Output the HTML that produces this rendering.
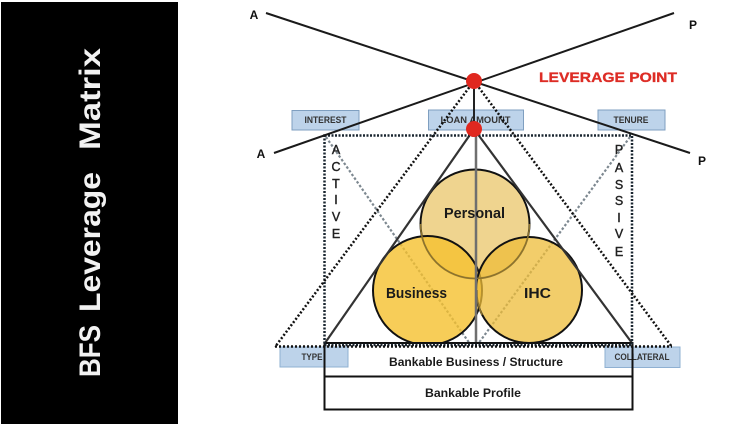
<!DOCTYPE html>
<html>
<head>
<meta charset="utf-8">
<style>
html,body{margin:0;padding:0;background:#fff;width:736px;height:424px;overflow:hidden}
svg{display:block}
text{font-family:"Liberation Sans",sans-serif}
</style>
</head>
<body>
<svg width="736" height="424" viewBox="0 0 736 424" xmlns="http://www.w3.org/2000/svg">
<rect width="736" height="424" fill="#fff"/>
<rect x="1" y="2" width="177" height="422" fill="#000"/>
<g font-size="30" font-weight="bold" fill="#f2f2f2">
<text transform="translate(100,377) rotate(-90)" textLength="52" lengthAdjust="spacingAndGlyphs">BFS</text>
<text transform="translate(100,312) rotate(-90)" textLength="140" lengthAdjust="spacingAndGlyphs">Leverage</text>
<text transform="translate(100,150) rotate(-90)" textLength="102" lengthAdjust="spacingAndGlyphs">Matrix</text>
</g>

<!-- top label boxes -->
<g fill="#bdd3ea" stroke="#7f9fc0" stroke-width="1">
<rect x="292" y="110.500" width="67" height="19.500"/>
<rect x="428.500" y="110" width="95" height="20"/>
<rect x="598" y="110" width="67" height="20"/>
</g>
<g font-size="9" font-weight="bold" fill="#333" text-anchor="middle" dominant-baseline="central">
<text x="325.500" y="120" textLength="42" lengthAdjust="spacingAndGlyphs">INTEREST</text>
<text x="475.500" y="120" textLength="70" lengthAdjust="spacingAndGlyphs">LOAN AMOUNT</text>
<text x="631" y="120" textLength="35" lengthAdjust="spacingAndGlyphs">TENURE</text>
</g>

<!-- grey diagonals -->
<g stroke="#7d8890" fill="none">
<line x1="326" y1="137" x2="470" y2="344" stroke-width="2.200" stroke-dasharray="2.500 2"/>
<line x1="630" y1="137" x2="478" y2="344" stroke-width="2.200" stroke-dasharray="2.500 2"/>
</g>

<!-- circles -->
<circle cx="475" cy="224" r="54.500" fill="#e8c260" fill-opacity=".7" stroke="#111" stroke-width="2"/>
<circle cx="427.500" cy="290.500" r="54.500" fill="#f5c02e" fill-opacity=".8" stroke="#111" stroke-width="2"/>
<circle cx="529" cy="290" r="53" fill="#edbc38" fill-opacity=".75" stroke="#111" stroke-width="2"/>
<path d="M475 278.500A54.500 54.500 0 0 1 420.500 224" fill="none" stroke="#8a7230" stroke-width="1.500"/>
<path d="M529.500 224A54.500 54.500 0 0 1 475 278.500" fill="none" stroke="#8a7230" stroke-width="1.500"/>
<path d="M477 290A53 53 0 0 0 482 315" fill="none" stroke="#8a7230" stroke-width="1.500"/>

<line x1="476" y1="129" x2="476" y2="345" stroke="#6f6f6f" stroke-width="2.500"/>
<line x1="474" y1="81" x2="474" y2="129" stroke="#222" stroke-width="2"/>

<!-- solid triangle -->
<g stroke="#333" stroke-width="2.200" fill="none">
<line x1="474" y1="129" x2="325" y2="343"/>
<line x1="474" y1="129" x2="632" y2="343"/>
</g>

<!-- bottom box fills -->
<rect x="324.500" y="343" width="308" height="33.500" fill="#fff"/>
<rect x="324.500" y="376.500" width="308" height="33" fill="#fff"/>

<!-- bottom label boxes sit over the structure box -->
<g fill="#bdd3ea" stroke="#8fb0d2" stroke-width="1">
<rect x="280" y="347" width="68" height="20"/>
<rect x="605" y="347" width="75" height="20.500"/>
</g>
<g font-size="9" font-weight="bold" fill="#333" text-anchor="middle" dominant-baseline="central">
<text x="312" y="357" textLength="21" lengthAdjust="spacingAndGlyphs">TYPE</text>
<text x="642" y="357" textLength="55" lengthAdjust="spacingAndGlyphs">COLLATERAL</text>
</g>

<rect x="324.500" y="343" width="308" height="33.500" fill="none" stroke="#111" stroke-width="2"/>
<rect x="324.500" y="376.500" width="308" height="33" fill="none" stroke="#111" stroke-width="2"/>

<!-- dotted rectangle and triangle -->
<path d="M324.500 135.500H632V345H324.500Z" stroke="#1a2630" fill="none" stroke-width="2.500" stroke-dasharray="2 1.500"/>
<g stroke="#111" fill="none" stroke-width="2.500" stroke-dasharray="2 2">
<line x1="474" y1="81" x2="275" y2="347"/>
<line x1="474" y1="81" x2="672" y2="347"/>
<line x1="275" y1="346.500" x2="672" y2="346.500"/>
</g>

<!-- crossing lines -->
<g stroke="#1a1a1a" stroke-width="2" fill="none">
<line x1="266" y1="13" x2="690" y2="153"/>
<line x1="674" y1="13" x2="274" y2="153"/>
</g>
<circle cx="474" cy="81" r="8" fill="#e0281f"/>
<circle cx="474" cy="129" r="8" fill="#e0281f"/>

<!-- labels -->
<text x="608" y="82" font-size="13.500" font-weight="bold" fill="#dd2c25" stroke="#dd2c25" stroke-width=".3" text-anchor="middle" textLength="138" lengthAdjust="spacingAndGlyphs">LEVERAGE POINT</text>
<g font-size="12" font-weight="bold" fill="#111" text-anchor="middle">
<text x="254" y="19">A</text>
<text x="693" y="29">P</text>
<text x="261" y="158">A</text>
<text x="702" y="165">P</text>
</g>
<g font-size="12.500" fill="#222" text-anchor="middle" stroke="#222" stroke-width=".4">
<text x="336" y="154">A</text>
<text x="336" y="171">C</text>
<text x="336" y="188">T</text>
<text x="336" y="204">I</text>
<text x="336" y="221">V</text>
<text x="336" y="238">E</text>
<text x="619" y="154">P</text>
<text x="619" y="172">A</text>
<text x="619" y="189">S</text>
<text x="619" y="205">S</text>
<text x="619" y="222">I</text>
<text x="619" y="238">V</text>
<text x="619" y="256">E</text>
</g>
<g font-weight="bold" fill="#1a1a1a" text-anchor="middle">
<text x="474.500" y="218" font-size="14.500" textLength="61" lengthAdjust="spacingAndGlyphs">Personal</text>
<text x="416.500" y="298" font-size="14.500" textLength="61" lengthAdjust="spacingAndGlyphs">Business</text>
<text x="537.500" y="298" font-size="14.500" textLength="27" lengthAdjust="spacingAndGlyphs">IHC</text>
<text x="476" y="366" font-size="12" textLength="174" lengthAdjust="spacingAndGlyphs">Bankable Business / Structure</text>
<text x="473" y="397" font-size="12" textLength="96" lengthAdjust="spacingAndGlyphs">Bankable Profile</text>
</g>
</svg>
</body>
</html>
